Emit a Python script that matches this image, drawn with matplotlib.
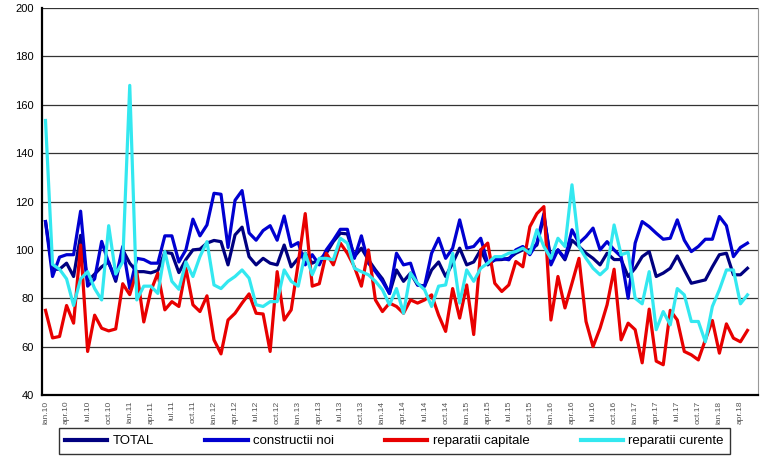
import numpy as np
import matplotlib
matplotlib.use("Agg")
import matplotlib.pyplot as plt

plt.rcParams['font.family'] = ['Liberation Sans', 'DejaVu Sans']

# luni: ian.10 ... mai.18
month_abbr = ["ian", "feb", "mar", "apr", "mai", "iun",
              "iul", "aug", "sep", "oct", "nov", "dec"]
years = list(range(10, 19))
n_months = 101

total = [111.7, 92, 92, 94.5, 89, 106, 87, 90, 93, 95,
         87, 100, 94.5, 91, 91, 90.5, 91.5, 99, 98.5, 90.6,
         96, 100, 100.3, 102.8, 103.9, 103.4, 93.8, 106.2, 109.4, 97.2,
         93.8, 96.5, 94.5, 93.8, 102, 93, 96.5, 98.6, 94.5, 95.9,
         98.6, 103.4, 106.9, 106.6, 97.2, 100.7, 95.9, 91.7,
         88, 82, 91.7, 87, 90.4, 85.5, 85, 91.7, 95, 89, 94.5, 100.7, 93.8, 95, 100, 93.8, 95.9,
         96, 96.5, 98.6, 100, 100, 102, 113.8, 95.9, 100, 95.9, 104, 101.4, 98.6, 96.5, 93.8, 98.6, 96,
         96, 89, 92.4, 97.2, 99.3, 89, 90.4, 92.4, 97.5, 91.7, 86.2, 86.9, 87.6, 93, 98, 98.6, 89.7, 89.7, 92.4]

constructii_noi = [111.7, 89, 97, 98, 98, 116, 85, 88, 103.5, 94.5,
                   88, 101.4, 84, 96.5, 96, 94.5, 94.5, 105.8, 105.8, 95,
                   100, 112.7, 105.8, 110.3, 123.4, 123, 101, 120.5, 124.5, 107,
                   104, 108, 110, 104, 114, 101.4, 103, 93.8, 98, 93.8,
                   100, 104, 108.5, 108.5, 96.5, 105.8, 94.5, 91,
                   87, 82, 98.6, 93.8, 94.5, 85.5, 85, 98.6, 104.8, 96.5, 100.7, 112.4, 100.7, 101.4, 104.8, 94.5, 95.9,
                   96.5, 95.9, 100, 101.4, 98, 102.8, 115, 93.8, 100, 96.5, 108.3, 102.8, 105.5, 109, 100, 103.4, 100,
                   97.2, 80, 102.8, 111.7, 109.6, 106.9, 104.4, 104.8, 112.4, 104, 99.3, 101.4, 104.4, 104.4, 113.8, 110, 97.2, 101, 102.8]

reparatii_capitale = [75, 63.6, 64.2, 77, 69.7, 102, 58, 73, 67.6, 66.5,
                      67.3, 86, 81.5, 91, 70.2, 83, 90.4, 75.2, 78.6, 76.6,
                      92.4, 77.3, 74.5, 81, 62.8, 57, 71, 73.8, 78, 81.8,
                      73.8, 73.5, 58, 91, 71, 75.2, 94.5, 115, 85, 86,
                      98.6, 93.8, 102.8, 98.6, 93, 85, 100, 79.3,
                      74.5, 78, 76.6, 73.8, 79.3, 78, 79.3, 81.4, 73, 66.3, 84, 71.8, 85.5, 65, 100, 102.8, 86.2,
                      82.8, 85.5, 95.2, 93, 109.6, 115, 117.9, 71, 89, 76, 86.2, 96.5, 70.4, 60, 67.6, 77.3, 92,
                      62.8, 69.7, 67, 53.3, 75.5, 54, 52.5, 75, 71, 58, 56.6, 54.5, 62.8, 70.8, 57.3, 69.4, 63.5, 62, 66.7]

reparatii_curente = [153.5, 94, 92, 88, 77, 88, 91, 84, 79.3, 110,
                     90, 95, 168, 79.3, 85, 85, 82, 99.3, 87, 83.7,
                     95, 89, 97.2, 103.4, 85.5, 84, 87, 89, 91.7, 88.3,
                     77.3, 76.6, 78.6, 78.6, 91.7, 87, 85, 98.6, 89.7, 96.5,
                     96.5, 95.9, 104.8, 102.8, 92.4, 91, 89.7, 87,
                     83.5, 77.3, 84, 73.8, 90.4, 86.2, 83.5, 76.6, 85, 85.5, 98.6, 78, 91.7, 87, 92.4, 94.5, 97.2,
                     97.2, 98.6, 99.3, 100.7, 98.6, 108.3, 101.4, 96.5, 104.8, 101.4, 126.9, 101.4, 96.5, 92.4, 89.7, 92.4, 110.3,
                     98, 99, 80, 77.7, 91, 67, 74.5, 69, 84, 81.4, 70.4, 70.4, 62, 76.6, 83.5, 91.7, 91.7, 77.7, 81.4]

series = [
    ("TOTAL", total, "#000080"),
    ("constructii noi", constructii_noi, "#0000d0"),
    ("reparatii capitale", reparatii_capitale, "#e80000"),
    ("reparatii curente", reparatii_curente, "#33e8f0"),
]

labels = [f"{month_abbr[m % 12]}.{years[m // 12]}" for m in range(n_months)]
x = np.arange(n_months)

fig = plt.figure(figsize=(7.7, 4.62), dpi=100)
ax = fig.add_axes([42 / 770, 1 - 395 / 462, 716 / 770, 387 / 462])

for name, vals, col in series:
    ax.plot(x, vals, color=col, linewidth=2.3, label=name)

ax.set_ylim(40, 200)
ax.set_yticks(np.arange(40, 201, 20))
ax.set_xlim(-0.5, n_months + 0.5)
ax.set_xticks(x[::3])
ax.set_xticklabels(labels[::3], rotation=90, fontsize=6, color="#555555")
ax.tick_params(axis="y", labelsize=8, length=0, pad=6)
ax.tick_params(axis="x", length=0, pad=4)

ax.grid(axis="y", color="#333333", linewidth=0.9)
ax.set_axisbelow(True)
ax.spines["top"].set_visible(False)
ax.spines["right"].set_color("#999999")
ax.spines["left"].set_linewidth(1.6)
ax.spines["bottom"].set_linewidth(1.6)

leg = fig.legend(loc="center", ncol=4, mode="expand",
                 bbox_to_anchor=(52 / 770, 1 - 457 / 462, 685 / 770, 32 / 462),
                 fontsize=9.5, handlelength=3.2, handletextpad=0.4,
                 frameon=True, fancybox=False, borderpad=0.5)
leg.get_frame().set_edgecolor("black")
leg.get_frame().set_linewidth(1.0)
for h in leg.get_lines():
    h.set_linewidth(3)

fig.savefig("out.png", dpi=100)
